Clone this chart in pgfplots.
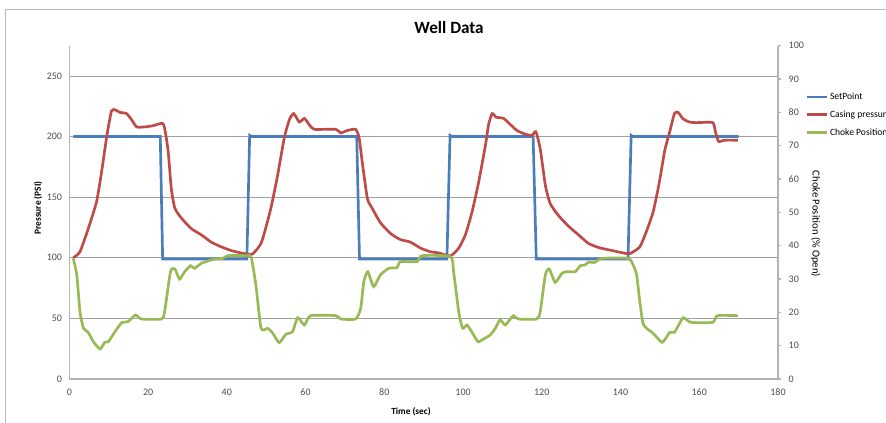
\documentclass[border=0pt]{standalone}
\usepackage{fontspec}
\setmainfont{Carlito}
\usepackage{pgfplots}
\pgfplotsset{compat=1.18}

\definecolor{spblue}{HTML}{4A7EBB}
\definecolor{cpred}{HTML}{BE4B48}
\definecolor{chgreen}{HTML}{98B954}
\definecolor{gridgray}{HTML}{A0A0A0}
\definecolor{axgray}{HTML}{B4B4B4}
\definecolor{framegray}{HTML}{B8B8B8}
\definecolor{lblgray}{HTML}{4D4D4D}

% both axes share the same frame
\pgfplotsset{
  wellaxis/.style={
    scale only axis, width=531.5pt, height=250pt,
    at={(52pt,32.25pt)}, anchor=south west,
    xmin=0, xmax=180,
    axis line style={-, draw=axgray, line width=0.8pt},
    ticklabel style={font=\fontsize{7.5}{9}\selectfont, text=lblgray},
    /pgf/number format/assume math mode=true,
  }
}

\begin{document}
\begin{tikzpicture}
\useasboundingbox (0,0) rectangle (664.5pt,316.5pt);
\clip (0,0) rectangle (664.5pt,316.5pt);
\draw[framegray, line width=0.8pt] (4.3pt,-2pt) -- (4.3pt,309.5pt) -- (670pt,309.5pt);

\begin{axis}[wellaxis,
  axis x line*=bottom, axis y line*=left,
  ymin=0, ymax=275,
  xtick={0,20,...,180}, ytick={0,50,...,250},
  major tick length=0pt,
  xticklabel style={yshift=-4pt},
  yticklabel style={xshift=-2pt},
  ymajorgrids, grid style={gridgray, line width=0.7pt},
]
% SetPoint
\addplot[spblue, line width=2pt] coordinates {
(1,200) (23.1,200) (23.7,99) (45.1,99) (45.8,201) (46.3,200)
(73.0,200) (73.7,99) (95.9,99) (96.7,201) (97.2,200)
(117.8,200) (118.6,99) (141.9,99) (142.7,201) (143.2,200) (170,200)
};
% Casing pressure
\addplot[cpred, line width=2pt, smooth, tension=0.35] coordinates {
(1,100) (2.7,105) (4.8,124) (6.9,146) (8.2,171) (9.5,200) (10.7,221)
(11.7,222) (12.8,220) (14.5,219) (15.8,214) (17.1,208) (19.2,208)
(21.3,209) (23.6,211) (24.2,207) (25.1,188) (25.9,157) (26.8,141)
(28.4,133) (31.0,124) (33.5,119) (36.0,113) (38.6,109) (41.1,106)
(43.6,104) (45.3,103) (46.5,103) (47.9,108) (48.7,112) (49.5,120)
(51.2,141) (52.9,168) (54.6,199) (55.9,214) (57.0,219) (58.4,212)
(59.7,215) (60.9,210) (62.2,206) (67.7,206) (68.9,203) (70.6,205)
(72.7,206) (73.6,199) (74.4,179) (75.7,149) (76.9,141) (79.0,129)
(81.6,120) (84.1,115) (86.6,113) (89.2,108) (91.7,105) (93.8,104)
(96.8,101.6) (98.9,108) (100.6,119) (102.3,138) (104.0,163) (105.7,193)
(106.5,210) (107.4,219) (108.4,216) (110.3,215) (112.0,210) (113.7,205)
(115.8,202) (117.5,201) (118.5,204) (119.6,190) (120.9,160) (122.1,145)
(124.2,135) (126.8,126) (129.3,119) (131.8,112) (134.4,108.5) (137.8,106)
(140.7,104) (142.4,103.5) (144.9,109) (146.6,122) (148.3,138) (149.9,163)
(151.2,188) (152.5,204) (153.7,219) (154.6,220) (155.9,214.6) (157.5,212)
(159.2,211.5) (163.4,211.5) (164.1,204) (164.9,196) (166.4,197) (169.8,197)
};
\end{axis}

\begin{axis}[wellaxis,
  axis x line=none, axis y line*=right,
  ymin=0, ymax=100, ytick={0,10,...,100},
  tick align=outside, major tick length=2.5pt,
  ytick style={draw=axgray, line width=0.8pt},
  yticklabel style={xshift=2pt},
  legend cell align=left,
  legend image code/.code={\draw[#1] (0pt,0pt) -- (15pt,0pt);},
  legend style={draw=none, fill=none, inner sep=0pt, outer sep=0pt,
    at={(1.0395,0.864)}, anchor=north west, row sep=4.3pt,
    font=\fontsize{7.2}{8.6}\selectfont,
    nodes={inner sep=1pt, text height=5.5pt, text depth=1.5pt}},
]
\addlegendimage{spblue, line width=2pt}
\addlegendentry{SetPoint}
\addlegendimage{cpred, line width=2pt}
\addlegendentry{Casing pressure}
% Choke Position
\addplot[chgreen, line width=2pt, smooth, tension=0.35] coordinates {
(1,36.2) (1.9,31.2) (2.7,20.2) (3.6,15.2) (4.8,14.0) (6.1,11.2) (7.8,9.0)
(9.0,11.0) (9.9,11.2) (11.6,14.2) (13.3,16.9) (14.9,17.2) (16.8,19.2)
(18.3,18.0) (23.4,18.0) (24.2,20.2) (25.7,32.2) (26.8,33.0) (28.0,30.0)
(29.3,32.2) (30.8,34.0) (31.8,33.2) (33.5,34.7) (35.2,35.4) (36.9,36.0)
(39.0,36.2) (40.3,37.0) (44.9,37.0) (46.2,36.5) (47.4,28.0) (48.7,15.2)
(50.4,15.2) (51.7,13.7) (53.3,10.9) (55.0,13.4) (56.7,14.2) (58.0,18.4)
(59.7,16.2) (61.3,19.0) (67.7,19.0) (68.9,18.0) (72.7,18.0) (74.0,21.2)
(74.8,29.2) (75.8,32.2) (77.3,27.7) (79.0,31.2) (81.1,33.2) (83.2,33.4)
(84.1,35.2) (88.3,35.2) (89.6,37.0) (96.8,36.7) (97.6,32.2) (98.9,20.2)
(99.9,15.2) (101.0,16.2) (102.3,14.0) (103.8,11.2) (105.2,12.0) (106.9,13.2)
(108.2,15.2) (109.4,17.7) (110.7,16.2) (112.0,18.0) (112.8,19.0) (114.1,18.0)
(118.7,18.0) (119.6,20.2) (120.9,31.2) (121.9,33.0) (123.4,29.0) (125.1,31.7)
(126.4,32.2) (128.5,32.2) (129.8,34.0) (131.0,34.2) (131.8,35.0) (133.5,35.0)
(135.2,36.2) (141.9,36.2) (143.2,34.2) (144.1,31.2) (144.9,23.2) (145.7,16.7)
(146.6,15.2) (148.3,13.7) (150.6,11.0) (152.5,14.0) (153.7,14.0) (155.0,16.7)
(156.0,18.4) (157.9,17.0) (163.4,17.0) (164.6,19.0) (169.8,19.0)
};
\addlegendentry{Choke Position}
\end{axis}

\node[font=\bfseries\fontsize{12.9}{15}\selectfont] at (336.75pt,295.5pt) {Well Data};
\node[font=\bfseries\fontsize{7}{8}\selectfont, rotate=90] at (28.5pt,160.5pt) {Pressure (PSI)};
\node[font=\bfseries\fontsize{7}{8}\selectfont] at (308.25pt,7.5pt) {Time (sec)};
\node[font=\fontsize{8}{9.5}\selectfont, rotate=-90] at (611.8pt,148.5pt) {Choke Position (\% Open)};
\end{tikzpicture}
\end{document}
